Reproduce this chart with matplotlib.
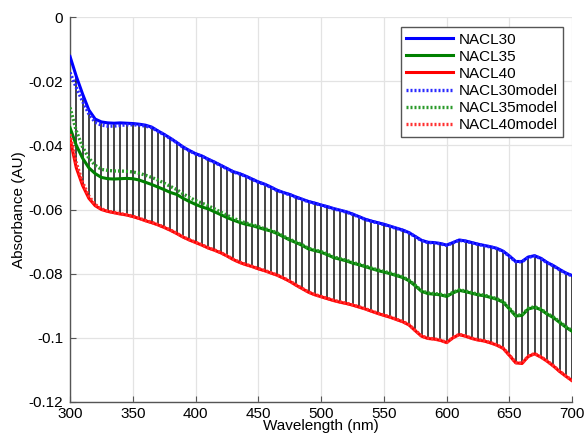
import numpy as np
import matplotlib.pyplot as plt

plt.rcParams['font.family'] = ['Liberation Sans', 'DejaVu Sans']

# wavelength grid (nm), 5 nm steps
wavelength = np.arange(300, 701, 5)

nacl30 = [-0.0123, -0.0185, -0.0240, -0.0290, -0.0318, -0.0327, -0.0330, -0.0331, -0.0330, -0.0331,
          -0.0332, -0.0334, -0.0337, -0.0343, -0.0355, -0.0366, -0.0378, -0.0391, -0.0405, -0.0416,
          -0.0426, -0.0433, -0.0443, -0.0452, -0.0462, -0.0472, -0.0482, -0.0488, -0.0496, -0.0505,
          -0.0514, -0.0521, -0.0530, -0.0540, -0.0547, -0.0553, -0.0561, -0.0568, -0.0575, -0.0580,
          -0.0586, -0.0591, -0.0597, -0.0602, -0.0607, -0.0614, -0.0622, -0.0630, -0.0636, -0.0641,
          -0.0646, -0.0652, -0.0658, -0.0664, -0.0672, -0.0684, -0.0696, -0.0702, -0.0703, -0.0706,
          -0.0711, -0.0703, -0.0695, -0.0698, -0.0703, -0.0708, -0.0712, -0.0716, -0.0721, -0.0730,
          -0.0745, -0.0762, -0.0762, -0.0748, -0.0744, -0.0752, -0.0765, -0.0775, -0.0787, -0.0798,
          -0.0806]

nacl35 = [-0.0345, -0.0400, -0.0440, -0.0470, -0.0488, -0.0500, -0.0504, -0.0505, -0.0504, -0.0503,
          -0.0504, -0.0508, -0.0515, -0.0522, -0.0530, -0.0538, -0.0547, -0.0553, -0.0565, -0.0575,
          -0.0584, -0.0592, -0.0598, -0.0607, -0.0616, -0.0625, -0.0633, -0.0640, -0.0646, -0.0650,
          -0.0656, -0.0662, -0.0667, -0.0675, -0.0685, -0.0695, -0.0703, -0.0712, -0.0723, -0.0728,
          -0.0733, -0.0741, -0.0750, -0.0755, -0.0760, -0.0767, -0.0772, -0.0778, -0.0784, -0.0790,
          -0.0795, -0.0800, -0.0806, -0.0812, -0.0822, -0.0838, -0.0855, -0.0862, -0.0864, -0.0866,
          -0.0871, -0.0860, -0.0852, -0.0856, -0.0861, -0.0866, -0.0869, -0.0874, -0.0880, -0.0889,
          -0.0910, -0.0932, -0.0930, -0.0910, -0.0905, -0.0912, -0.0926, -0.0937, -0.0952, -0.0967,
          -0.0980]

nacl40 = [-0.0380, -0.0470, -0.0525, -0.0565, -0.0588, -0.0600, -0.0606, -0.0610, -0.0614, -0.0617,
          -0.0622, -0.0628, -0.0635, -0.0641, -0.0648, -0.0656, -0.0665, -0.0675, -0.0686, -0.0695,
          -0.0703, -0.0711, -0.0720, -0.0727, -0.0735, -0.0745, -0.0756, -0.0765, -0.0772, -0.0778,
          -0.0785, -0.0791, -0.0798, -0.0805, -0.0814, -0.0824, -0.0836, -0.0847, -0.0858, -0.0866,
          -0.0872, -0.0878, -0.0884, -0.0889, -0.0893, -0.0898, -0.0904, -0.0910, -0.0917, -0.0924,
          -0.0930, -0.0936, -0.0943, -0.0950, -0.0960, -0.0978, -0.0995, -0.1002, -0.1004, -0.1008,
          -0.1015, -0.1000, -0.0990, -0.0995, -0.1002, -0.1007, -0.1010, -0.1016, -0.1023, -0.1033,
          -0.1055, -0.1078, -0.1080, -0.1058, -0.1050, -0.1060, -0.1073, -0.1088, -0.1105, -0.1120,
          -0.1134]

nacl30_model = [-0.0173, -0.0220, -0.0263, -0.0302, -0.0328, -0.0337, -0.0340, -0.0340, -0.0338, -0.0336,
                -0.0336, -0.0337, -0.0340, -0.0345, -0.0356, -0.0367, -0.0379, -0.0392, -0.0406, -0.0417,
                -0.0427, -0.0434, -0.0444, -0.0453, -0.0463, -0.0473, -0.0483, -0.0489, -0.0497, -0.0506,
                -0.0515, -0.0522, -0.0531, -0.0541, -0.0548, -0.0554, -0.0562, -0.0569, -0.0576, -0.0581,
                -0.0587, -0.0592, -0.0598, -0.0603, -0.0608, -0.0615, -0.0623, -0.0631, -0.0637, -0.0642,
                -0.0647, -0.0653, -0.0659, -0.0665, -0.0673, -0.0685, -0.0697, -0.0703, -0.0704, -0.0707,
                -0.0712, -0.0704, -0.0696, -0.0699, -0.0704, -0.0709, -0.0713, -0.0717, -0.0722, -0.0731,
                -0.0746, -0.0763, -0.0763, -0.0749, -0.0745, -0.0753, -0.0766, -0.0776, -0.0788, -0.0799,
                -0.0807]

nacl35_model = [-0.0282, -0.0355, -0.0405, -0.0440, -0.0462, -0.0475, -0.0478, -0.0480, -0.0480, -0.0481,
                -0.0483, -0.0487, -0.0493, -0.0500, -0.0508, -0.0518, -0.0528, -0.0538, -0.0551, -0.0562,
                -0.0572, -0.0580, -0.0588, -0.0598, -0.0608, -0.0618, -0.0627, -0.0635, -0.0642, -0.0647,
                -0.0653, -0.0660, -0.0665, -0.0673, -0.0683, -0.0693, -0.0701, -0.0710, -0.0721, -0.0726,
                -0.0731, -0.0739, -0.0748, -0.0753, -0.0758, -0.0765, -0.0770, -0.0776, -0.0782, -0.0788,
                -0.0793, -0.0798, -0.0804, -0.0810, -0.0820, -0.0836, -0.0853, -0.0860, -0.0862, -0.0864,
                -0.0869, -0.0858, -0.0850, -0.0854, -0.0859, -0.0864, -0.0867, -0.0872, -0.0878, -0.0887,
                -0.0908, -0.0930, -0.0928, -0.0908, -0.0903, -0.0910, -0.0924, -0.0935, -0.0950, -0.0965,
                -0.0978]

nacl40_model = [-0.0365, -0.0455, -0.0515, -0.0558, -0.0584, -0.0598, -0.0605, -0.0609, -0.0613, -0.0616,
                -0.0621, -0.0627, -0.0634, -0.0640, -0.0647, -0.0655, -0.0664, -0.0674, -0.0685, -0.0694,
                -0.0702, -0.0710, -0.0719, -0.0726, -0.0734, -0.0744, -0.0755, -0.0764, -0.0771, -0.0777,
                -0.0784, -0.0790, -0.0797, -0.0804, -0.0813, -0.0823, -0.0835, -0.0846, -0.0857, -0.0865,
                -0.0871, -0.0877, -0.0883, -0.0888, -0.0892, -0.0897, -0.0903, -0.0909, -0.0916, -0.0923,
                -0.0929, -0.0935, -0.0942, -0.0949, -0.0959, -0.0977, -0.0994, -0.1001, -0.1003, -0.1007,
                -0.1014, -0.0999, -0.0989, -0.0994, -0.1001, -0.1006, -0.1009, -0.1015, -0.1022, -0.1032,
                -0.1054, -0.1077, -0.1079, -0.1057, -0.1049, -0.1059, -0.1072, -0.1087, -0.1104, -0.1119,
                -0.1133]

fig = plt.figure(figsize=(5.86, 4.42), dpi=100)
ax = fig.add_axes([0.1195, 0.0905, 0.857, 0.871])

# black connectors between top and bottom curves
ax.vlines(wavelength, nacl40, nacl30, colors='#111111', linewidth=1.1, zorder=2)

ax.plot(wavelength, nacl30, color='#0000ff', lw=2.2, label='NACL30', zorder=3)
ax.plot(wavelength, nacl35, color='#008000', lw=2.2, label='NACL35', zorder=3)
ax.plot(wavelength, nacl40, color='#ff0000', lw=2.2, label='NACL40', zorder=3)
ax.plot(wavelength, nacl30_model, color='#2a2aff', lw=2.4, ls=(0, (0.6, 0.6)), label='NACL30model', zorder=4)
ax.plot(wavelength, nacl35_model, color='#2a9a2a', lw=2.4, ls=(0, (0.6, 0.6)), label='NACL35model', zorder=4)
ax.plot(wavelength, nacl40_model, color='#ff3030', lw=2.4, ls=(0, (0.6, 0.6)), label='NACL40model', zorder=4)

ax.set_xlim(300, 700)
ax.set_ylim(-0.12, 0)
ax.set_xticks(np.arange(300, 701, 50))
ax.set_yticks(np.arange(-0.12, 0.001, 0.02))
ax.set_yticklabels(['-0.12', '-0.1', '-0.08', '-0.06', '-0.04', '-0.02', '0'])

ax.grid(True, color='#e3e3e3', linewidth=0.9)
ax.set_axisbelow(True)
for s in ['top', 'right']:
    ax.spines[s].set_visible(False)
for s in ['left', 'bottom']:
    ax.spines[s].set_color('#555555')
    ax.spines[s].set_linewidth(1.0)
ax.tick_params(direction='in', length=4, width=0.8, color='#555555', labelsize=11)
ax.tick_params(axis='x', pad=3.5)
ax.tick_params(axis='y', pad=5)

ax.set_xlabel('Wavelength (nm)', fontsize=11, labelpad=-1)
ax.set_ylabel('Absorbance (AU)', fontsize=11, labelpad=2)

leg = ax.legend(loc='upper right', fontsize=11, handlelength=3.1, handletextpad=0.35,
                labelspacing=0.2, borderpad=0.35, fancybox=False, framealpha=1,
                edgecolor='#555555', bbox_to_anchor=(0.997, 0.993))
leg.get_frame().set_linewidth(1.0)

fig.savefig('out.png', dpi=100)
